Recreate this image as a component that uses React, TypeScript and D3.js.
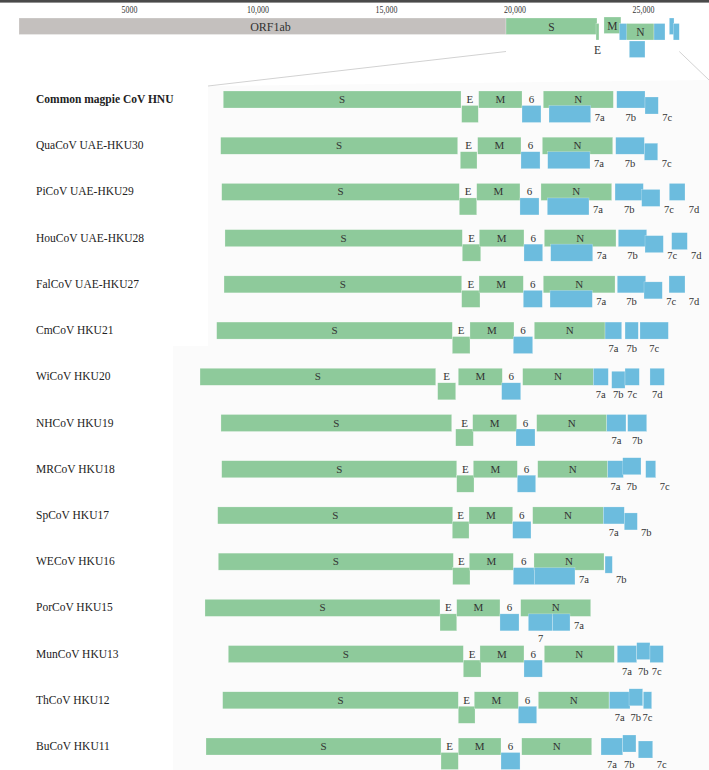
import React from "react";
import * as d3 from "d3";

// ---------- overview axis ----------
const tickValues = [5000, 10000, 15000, 20000, 25000];
const tickLabels = ["5000", "10,000", "15,000", "20,000", "25,000"];

// [gene, start, end, lane, labelMode]
type Gene = [string, number, number, string, string];

const overviewGenes: Gene[] = [
  ["ORF1ab", 778, 19728, "t", "c"],
  ["S", 19728, 23268, "t", "c"],
  ["E", 23230, 23345, "m", "e"],
  ["M", 23540, 24200, "u", "c"],
  ["6", 24137, 24447, "m", ""],
  ["N", 24424, 25486, "m", "c"],
  ["7a", 24525, 25136, "l", ""],
  ["7b", 25486, 25914, "m", ""],
  ["7c", 26082, 26265, "t", ""],
  ["7d", 26237, 26470, "m", ""],
];

// ---------- per-virus genomes ----------
const viruses = [
  "Common magpie CoV HNU",
  "QuaCoV UAE-HKU30",
  "PiCoV UAE-HKU29",
  "HouCoV UAE-HKU28",
  "FalCoV UAE-HKU27",
  "CmCoV HKU21",
  "WiCoV HKU20",
  "NHCoV HKU19",
  "MRCoV HKU18",
  "SpCoV HKU17",
  "WECoV HKU16",
  "PorCoV HKU15",
  "MunCoV HKU13",
  "ThCoV HKU12",
  "BuCoV HKU11",
];

const HNU: Gene[] = [
  ["S", 19710, 23206, "t", "c"],
  ["E", 23216, 23460, "l", "c"],
  ["M", 23466, 24103, "t", "c"],
  ["6", 24103, 24382, "l", "c"],
  ["N", 24416, 25446, "t", "c"],
  ["7a", 24500, 25113, "l", "r"],
  ["7b", 25496, 25912, "t", "b"],
  ["7c", 25912, 26107, "m", "r"],
];
const HKU30: Gene[] = [
  ["S", 19672, 23157, "t", "c"],
  ["E", 23196, 23441, "l", "c"],
  ["M", 23451, 24088, "t", "c"],
  ["6", 24088, 24368, "l", "c"],
  ["N", 24402, 25437, "t", "c"],
  ["7a", 24481, 25103, "l", "r"],
  ["7b", 25481, 25902, "t", "b"],
  ["7c", 25902, 26099, "m", "r"],
];
const HKU29: Gene[] = [
  ["S", 19687, 23181, "t", "c"],
  ["E", 23181, 23437, "l", "c"],
  ["M", 23437, 24073, "t", "c"],
  ["6", 24073, 24353, "l", "c"],
  ["N", 24382, 25422, "t", "c"],
  ["7a", 24475, 25088, "l", "r"],
  ["7b", 25471, 25887, "t", "b"],
  ["7c", 25863, 26132, "m", "r"],
  ["7d", 26269, 26500, "t", "r"],
];
const HKU28: Gene[] = [
  ["S", 19735, 23225, "t", "c"],
  ["E", 23225, 23496, "l", "c"],
  ["M", 23475, 24132, "t", "c"],
  ["6", 24132, 24407, "l", "c"],
  ["N", 24431, 25485, "t", "c"],
  ["7a", 24525, 25143, "l", "r"],
  ["7b", 25519, 25937, "t", "b"],
  ["7c", 25912, 26181, "m", "r"],
  ["7d", 26304, 26534, "d", "r"],
];
const HKU27: Gene[] = [
  ["S", 19721, 23216, "t", "c"],
  ["E", 23216, 23485, "l", "c"],
  ["M", 23471, 24122, "t", "c"],
  ["6", 24122, 24402, "l", "c"],
  ["N", 24416, 25471, "t", "c"],
  ["7a", 24515, 25137, "l", "r"],
  ["7b", 25504, 25922, "t", "b"],
  ["7c", 25897, 26166, "m", "r"],
  ["7d", 26265, 26500, "t", "r"],
];
const HKU21: Gene[] = [
  ["S", 19613, 23078, "t", "c"],
  ["E", 23078, 23338, "l", "c"],
  ["M", 23338, 23985, "t", "c"],
  ["6", 23975, 24260, "l", "c"],
  ["N", 24284, 25324, "t", "c"],
  ["7a", 25324, 25569, "t", "b"],
  ["7b", 25618, 25813, "t", "b"],
  ["7c", 25838, 26255, "t", "b"],
];
const HKU20: Gene[] = [
  ["S", 19368, 22834, "t", "c"],
  ["E", 22863, 23128, "l", "c"],
  ["M", 23166, 23813, "t", "c"],
  ["6", 23804, 24084, "l", "c"],
  ["N", 24113, 25152, "t", "c"],
  ["7a", 25152, 25372, "t", "b"],
  ["7b", 25422, 25618, "d", "b"],
  ["7c", 25618, 25828, "t", "b"],
  ["7d", 25985, 26196, "t", "b"],
];
const HKU19: Gene[] = [
  ["S", 19676, 23069, "t", "c"],
  ["E", 23128, 23387, "l", "c"],
  ["M", 23378, 24025, "t", "c"],
  ["6", 24015, 24294, "l", "c"],
  ["N", 24319, 25349, "t", "c"],
  ["7a", 25349, 25632, "t", "b"],
  ["7b", 25657, 25937, "t", "b"],
];
const HKU18: Gene[] = [
  ["S", 19687, 23143, "t", "c"],
  ["E", 23143, 23397, "l", "c"],
  ["M", 23387, 24034, "t", "c"],
  ["6", 24034, 24304, "l", "c"],
  ["N", 24334, 25363, "t", "c"],
  ["7a", 25363, 25593, "t", "b"],
  ["7b", 25584, 25853, "u", "b"],
  ["7c", 25922, 26069, "t", "r"],
];
const HKU17: Gene[] = [
  ["S", 19628, 23084, "t", "c"],
  ["E", 23078, 23324, "l", "c"],
  ["M", 23324, 23966, "t", "c"],
  ["6", 23966, 24235, "l", "c"],
  ["N", 24260, 25299, "t", "c"],
  ["7a", 25299, 25607, "t", "b"],
  ["7b", 25607, 25799, "m", "r"],
];
const HKU16: Gene[] = [
  ["S", 19637, 23093, "t", "c"],
  ["E", 23084, 23338, "l", "c"],
  ["M", 23328, 23975, "t", "c"],
  ["6", 23975, 24284, "l", "c"],
  ["N", 24279, 25309, "t", "c"],
  ["7a", 24284, 24882, "l", "r"],
  ["7b", 25324, 25431, "d", "r"],
];
const HKU15: Gene[] = [
  ["S", 19441, 22897, "t", "c"],
  ["E", 22897, 23143, "l", "c"],
  ["M", 23143, 23779, "t", "c"],
  ["6", 23779, 24059, "l", "c"],
  ["N", 24084, 25113, "t", "c"],
  ["7", 24196, 24554, "l", "u"],
  ["7a", 24554, 24809, "l", "r"],
];
const HKU13: Gene[] = [
  ["S", 19784, 23240, "t", "c"],
  ["E", 23240, 23500, "l", "c"],
  ["M", 23485, 24132, "t", "c"],
  ["6", 24132, 24402, "l", "c"],
  ["N", 24431, 25460, "t", "c"],
  ["7a", 25504, 25790, "t", "b"],
  ["7b", 25790, 25985, "u", "b"],
  ["7c", 25985, 26181, "t", "b"],
];
const HKU12: Gene[] = [
  ["S", 19701, 23166, "t", "c"],
  ["E", 23166, 23412, "l", "c"],
  ["M", 23401, 24049, "t", "c"],
  ["6", 24049, 24319, "l", "c"],
  ["N", 24343, 25382, "t", "c"],
  ["7a", 25387, 25691, "t", "b"],
  ["7b", 25677, 25878, "u", "b"],
  ["7c", 25887, 26010, "t", "b"],
];
const HKU11: Gene[] = [
  ["S", 19456, 22912, "t", "c"],
  ["E", 22912, 23166, "l", "c"],
  ["M", 23166, 23794, "t", "c"],
  ["6", 23794, 24074, "l", "c"],
  ["N", 24099, 25128, "t", "c"],
  ["7a", 25265, 25584, "t", "b"],
  ["7b", 25584, 25779, "u", "b"],
  ["7c", 25813, 26025, "d", "r"],
];

const genomes: Gene[][] = [
  HNU, HKU30, HKU29, HKU28, HKU27, HKU21, HKU20, HKU19, HKU18, HKU17, HKU16, HKU15, HKU13, HKU12, HKU11,
];

const GREEN = "#8ECA9B";
const BLUE = "#6CBCDE";
const GREY = "#C4C0BE";
const STRUCT = ["S", "E", "M", "N"];
const colorOf = (g: string) => (g === "ORF1ab" ? GREY : STRUCT.includes(g) ? GREEN : BLUE);

const ROW_LANE: Record<string, number> = { t: 0, u: -3, d: 3, m: 6, l: 14.5 };
const OV_LANE: Record<string, number> = { t: 0, u: -1, m: 5.5, l: 23 };
const SERIF = "'Liberation Serif', 'Times New Roman', serif";

export default function App() {
  const W = 709;
  const H = 770;
  const xo = d3.scaleLinear().domain([0, 27000]).range([-1, 692.9]);
  const xr = d3.scaleLinear().domain([18000, 27000]).range([107, 719]);
  const y = d3.scalePoint<string>().domain(viruses).range([91, 738]);
  const ovTop = 18;
  const ovH = 16.5;
  const rowH = 17;

  const projL0 = xo(19728);
  const projR0 = xo(26470);

  return (
    <svg
      width={W}
      height={H}
      style={{ position: "absolute", left: 0, top: 0, background: "#fff" }}
      fontFamily={SERIF}
    >
      <rect x={0} y={0} width={W} height={H} fill="#ffffff" />
      {/* faint zoom-panel background */}
      <polygon
        points={`208,86 ${W},80 ${W},${H} 173,${H} 173,346 208,346`}
        fill="#fbfbfb"
      />
      {/* top axis line */}
      <rect x={0} y={0} width={W} height={2.6} fill="#4a4a4a" />
      {tickValues.map((v, i) => (
        <text
          key={v}
          transform={`translate(${xo(v) + 2},13) scale(0.72,1)`}
          textAnchor="middle"
          fontSize={11}
          fill="#333"
        >
          {tickLabels[i]}
        </text>
      ))}
      {/* projection lines */}
      <line x1={projL0} y1={51.5} x2={208} y2={86} stroke="#d2d2d2" strokeWidth={1} />
      <line x1={projR0} y1={51.5} x2={W} y2={80} stroke="#d2d2d2" strokeWidth={1} />

      {/* overview genome */}
      {overviewGenes.map(([g, s, e, lane], i) => (
        <rect
          key={"ov" + i}
          x={xo(s)}
          y={ovTop + OV_LANE[lane]}
          width={xo(e) - xo(s)}
          height={ovH}
          fill={colorOf(g)}
          stroke="#ffffff"
          strokeOpacity={0.5}
          strokeWidth={0.5}
        />
      ))}
      {overviewGenes
        .filter((d) => d[4] !== "")
        .map(([g, s, e, lane, mode], i) => (
          <text
            key={"ovl" + i}
            x={(xo(s) + xo(e)) / 2 + (g === "ORF1ab" ? 8 : 0)}
            y={mode === "e" ? 54 : ovTop + OV_LANE[lane] + 12.5}
            textAnchor="middle"
            fontSize={g === "ORF1ab" ? 12 : 11.5}
            fill="#333"
          >
            {g}
          </text>
        ))}

      {/* rows */}
      {viruses.map((name, ri) => {
        const top = y(name) as number;
        const genes = genomes[ri];
        return (
          <g key={name}>
            <text
              x={36}
              y={top + 12}
              fontSize={11.5}
              fontWeight={ri === 0 ? "bold" : "normal"}
              fill="#222"
            >
              {name}
            </text>
            {genes.map(([g, s, e, lane], gi) => (
              <rect
                key={"r" + gi}
                x={xr(s)}
                y={top + ROW_LANE[lane]}
                width={xr(e) - xr(s)}
                height={rowH}
                fill={colorOf(g)}
                stroke="#ffffff"
                strokeOpacity={0.45}
                strokeWidth={0.5}
              />
            ))}
            {genes.map(([g, s, e, , mode], gi) => {
              let lx = (xr(s) + xr(e)) / 2;
              let ly = top + 12;
              if (mode === "b") ly = top + 29.5;
              if (mode === "r") {
                lx = xr(e) + 9;
                ly = top + 29.5;
              }
              if (mode === "u") ly = top + 43;
              return (
                <text
                  key={"l" + gi}
                  x={lx}
                  y={ly}
                  textAnchor="middle"
                  fontSize={mode === "c" ? 11 : 10.5}
                  fill="#333"
                >
                  {g}
                </text>
              );
            })}
          </g>
        );
      })}
    </svg>
  );
}
